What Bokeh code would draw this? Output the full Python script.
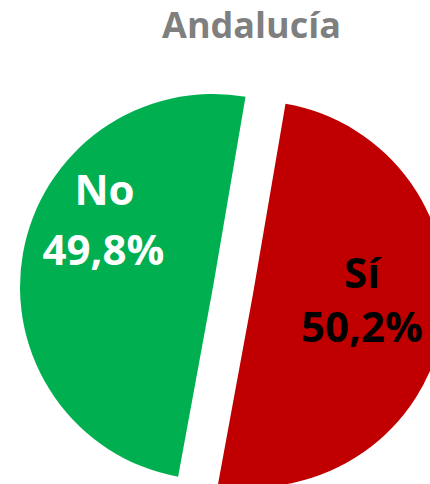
import math
from bokeh.plotting import figure
from bokeh.models import ColumnDataSource, Range1d
from bokeh.core.properties import value
from bokeh.embed import file_html
from bokeh.resources import INLINE

# ---- data ----
categories = ["Sí", "No"]
shares = [50.2, 49.8]
colors = ["#C00000", "#00B050"]
label_colors = ["#000000", "#FFFFFF"]
title_text = "Andalucía"

# ---- layout ----
W, H = 430, 484
p = figure(width=W, height=H, output_backend="svg", toolbar_location=None,
           x_range=Range1d(0, W), y_range=Range1d(0, H), min_border=0)
p.axis.visible = False
p.grid.visible = False
p.outline_line_color = None
p.background_fill_color = "white"

cx, cy = 232.5, 194.0   # pie centre (data units = px)
R = 193.0
explode = 20.3
split_angle = 80.3      # degrees, where first slice ends (anticlock from its start)

total = sum(shares)
starts, ends, xs, ys = [], [], [], []
span0 = 360.0 * shares[0] / total
s0, e0 = split_angle - span0, split_angle
s1, e1 = split_angle, split_angle + 360.0 * shares[1] / total
for s, e in [(s0, e0), (s1, e1)]:
    mid = math.radians((s + e) / 2)
    starts.append(s)
    ends.append(e)
    xs.append(cx + explode * math.cos(mid))
    ys.append(cy + explode * math.sin(mid))

src = ColumnDataSource(dict(x=xs, y=ys, s=starts, e=ends, color=colors))
p.wedge(x="x", y="y", radius=R, start_angle="s", end_angle="e",
        start_angle_units="deg", end_angle_units="deg", direction="anticlock",
        fill_color="color", line_color=None, source=src)

# labels
label_pos = [((361.5, 213.0), (361.5, 159.0)), ((104.0, 296.0), (103.0, 236.0))]
for cat, v, col, ((x1, y1), (x2, y2)) in zip(categories, shares, label_colors, label_pos):
    pct = f"{v:.1f}%".replace(".", ",")
    p.text(x=[x1, x2], y=[y1, y2], text=[cat, pct], text_color=col,
           text_font=value("Open Sans"), text_font_style="bold",
           text_font_size="42px", text_align="center", text_baseline="alphabetic")

p.text(x=[251.0], y=[460.5], text=[title_text], text_color="#7F7F7F",
       text_font=value("Open Sans"), text_font_style="bold",
       text_font_size="36px", text_align="center", text_baseline="alphabetic")

open("out.html", "w").write(file_html(p, INLINE))
